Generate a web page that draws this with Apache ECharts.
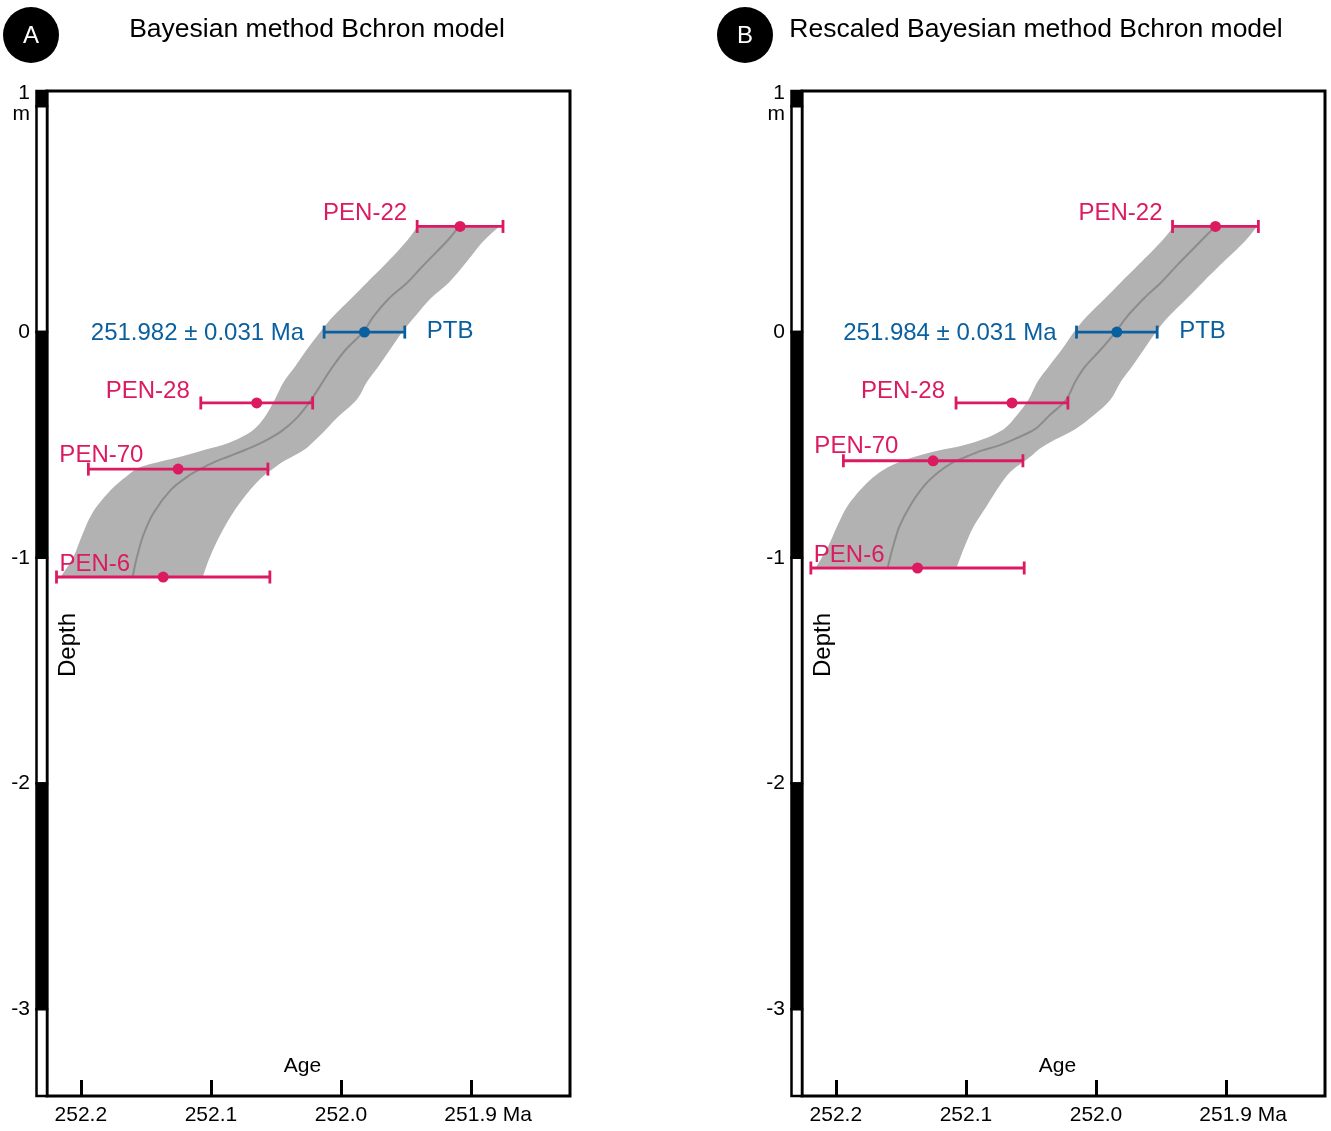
<!DOCTYPE html>
<html><head><meta charset="utf-8">
<script src="https://cdn.jsdelivr.net/npm/echarts@6/dist/echarts.min.js"></script>
<style>html,body{margin:0;padding:0;background:#fff;}#c{width:1331px;height:1131px;}</style>
</head><body><div id="c"></div>
<script>
// ---------- data ----------
const sampleNames = ['PEN-22', 'PTB', 'PEN-28', 'PEN-70', 'PEN-6'];
// Panel A: Bayesian method Bchron model
const ageA   = [251.9085, 251.982, 252.0648, 252.1252, 252.1367];
const errA   = [0.033, 0.031, 0.043, 0.069, 0.082];
const depthA = [0.468, 0.0, -0.314, -0.607, -1.085];
const ptbTextA = '251.982 ± 0.031 Ma';
// Panel B: Rescaled Bayesian method Bchron model
const ageB   = [251.9082, 251.984, 252.0646, 252.1252, 252.1372];
const errB   = [0.033, 0.031, 0.043, 0.069, 0.082];
const depthB = [0.468, 0.0, -0.314, -0.570, -1.045];
const ptbTextB = '251.984 ± 0.031 Ma';

// Age-depth model envelope and median (A)
const bandDepthA = [0.47, 0.40, 0.30, 0.22, 0.15, 0.07, 0.0, -0.075, -0.15, -0.22, -0.30, -0.38, -0.44, -0.49, -0.52, -0.55, -0.575, -0.60, -0.64, -0.70, -0.80, -0.90, -1.00, -1.08];
const bandOldA   = [251.941, 251.950, 251.966, 251.980, 251.992, 252.006, 252.016, 252.026, 252.035, 252.044, 252.051, 252.059, 252.069, 252.086, 252.104, 252.122, 252.140, 252.155, 252.165, 252.177, 252.191, 252.199, 252.206, 252.215];
const bandYoungA = [251.878, 251.891, 251.905, 251.917, 251.931, 251.943, 251.953, 251.962, 251.971, 251.980, 251.988, 252.003, 252.013, 252.022, 252.028, 252.037, 252.045, 252.051, 252.060, 252.070, 252.083, 252.093, 252.101, 252.106];
const medianA    = [251.909, 251.919, 251.936, 251.949, 251.963, 251.975, 251.983, 251.996, 252.006, 252.014, 252.023, 252.034, 252.046, 252.061, 252.073, 252.086, 252.097, 252.106, 252.118, 252.131, 252.144, 252.152, 252.157, 252.160];
// Age-depth model envelope and median (B)
const bandDepthB = [0.47, 0.40, 0.30, 0.22, 0.15, 0.07, 0.0, -0.075, -0.15, -0.22, -0.30, -0.37, -0.43, -0.475, -0.505, -0.525, -0.55, -0.58, -0.62, -0.68, -0.77, -0.86, -0.95, -1.04];
const bandOldB   = [251.940, 251.950, 251.967, 251.981, 251.993, 252.007, 252.017, 252.026, 252.036, 252.045, 252.052, 252.061, 252.071, 252.087, 252.104, 252.121, 252.138, 252.153, 252.166, 252.178, 252.191, 252.199, 252.206, 252.215];
const bandYoungB = [251.876, 251.886, 251.904, 251.918, 251.930, 251.944, 251.954, 251.963, 251.972, 251.981, 251.989, 252.002, 252.016, 252.031, 252.040, 252.045, 252.050, 252.057, 252.066, 252.074, 252.084, 252.094, 252.101, 252.107];
const medianB    = [251.908, 251.920, 251.937, 251.950, 251.963, 251.976, 251.985, 251.996, 252.008, 252.016, 252.023, 252.036, 252.047, 252.063, 252.076, 252.088, 252.099, 252.111, 252.121, 252.132, 252.143, 252.151, 252.156, 252.160];

const xTicks = [252.2, 252.1, 252.0, 251.9];
const yTicks = [1, 0, -1, -2, -3];
const xMin = 251.824, xMax = 252.226;   // age axis (reversed)
const yMin = -3.384, yMax = 1.068;      // depth axis (m)
const depthBarEdges = [yMax, 1, 0, -1, -2, -3, yMin];

// ---------- style ----------
const FONT = "'Liberation Sans', Arial, Helvetica, sans-serif";
const PINK = '#dc1a62', BLUE = '#0a5f9e', BAND = '#b3b2b3', MED = '#8c8c8c';
const labelRule = {
  'PEN-22': {dx: -10, dy: -13, align: 'right'},
  'PEN-28': {dx: -11, dy: -12, align: 'right'},
  'PEN-70': {dx: -29, dy: -14, align: 'left'},
  'PEN-6':  {dx: 3,   dy: -13, align: 'left'}
};

const chart = echarts.init(document.getElementById('c'), null, {renderer: 'canvas'});

function xAxisCfg(gi) {
  return {
    gridIndex: gi, type: 'value', inverse: true, min: xMin, max: xMax, position: 'bottom',
    axisLine: {show: false, onZero: false}, splitLine: {show: false},
    axisTick: {show: true, inside: true, length: 16, customValues: xTicks, lineStyle: {color: '#000', width: 3}},
    axisLabel: {
      customValues: xTicks, margin: 9, color: '#000', fontSize: 21, fontFamily: FONT,
      formatter: v => Math.abs(v - 251.9) < 1e-6 ? '{s|}{v|251.9}{v| Ma}' : '{v|' + v.toFixed(1) + '}',
      rich: {s: {width: 34}, v: {fontSize: 21, fontFamily: FONT, color: '#000'}}
    },
    name: 'Age', nameLocation: 'middle', nameGap: -40,
    nameTextStyle: {fontSize: 21, color: '#000', fontFamily: FONT, padding: [0, 12, 0, 0]}
  };
}
function yAxisCfg(gi) {
  return {
    gridIndex: gi, type: 'value', min: yMin, max: yMax, position: 'left',
    axisLine: {show: false, onZero: false}, axisTick: {show: false}, splitLine: {show: false},
    axisLabel: {
      customValues: yTicks, margin: 17, color: '#000', fontSize: 21, fontFamily: FONT, lineHeight: 21,
      formatter: v => v === 1 ? '{u|1\nm}' : String(v),
      rich: {u: {fontSize: 21, lineHeight: 21, fontFamily: FONT, color: '#000', padding: [0, 0, 6, 0]}}
    }
  };
}

function depthBarSeries(gi) {
  const data = [];
  for (let i = 0; i < depthBarEdges.length - 1; i++) data.push([depthBarEdges[i], depthBarEdges[i + 1], (i % 2 === 0) ? 1 : 0]);
  return {
    type: 'custom', xAxisIndex: gi, yAxisIndex: gi, clip: false, z: 5, silent: true,
    encode: {y: [0, 1]},
    data: data,
    renderItem: (p, api) => {
      const t = api.coord([xMax, api.value(0)]);
      const b = api.coord([xMax, api.value(1)]);
      return {type: 'rect', shape: {x: t[0] - 10.5, y: t[1], width: 10.5, height: b[1] - t[1]},
        style: {fill: api.value(2) ? '#000' : '#fff', stroke: '#000', lineWidth: 2.5}};
    }
  };
}

// smooth curve through pixel points (Catmull-Rom -> cubic Bezier path commands)
function curveCmds(pts) {
  let s = '';
  for (let i = 0; i < pts.length - 1; i++) {
    const p0 = pts[Math.max(i - 1, 0)], p1 = pts[i], p2 = pts[i + 1], p3 = pts[Math.min(i + 2, pts.length - 1)];
    const c1 = [p1[0] + (p2[0] - p0[0]) / 6, p1[1] + (p2[1] - p0[1]) / 6];
    const c2 = [p2[0] - (p3[0] - p1[0]) / 6, p2[1] - (p3[1] - p1[1]) / 6];
    s += ' C' + c1[0] + ' ' + c1[1] + ' ' + c2[0] + ' ' + c2[1] + ' ' + p2[0] + ' ' + p2[1];
  }
  return s;
}

function bandSeries(gi, depth, oldA, young) {
  return {
    type: 'custom', xAxisIndex: gi, yAxisIndex: gi, z: 1, silent: true,
    data: [[oldA[0], depth[0]]],
    renderItem: (p, api) => {
      const left = depth.map((d, i) => api.coord([oldA[i], d]));
      const right = depth.map((d, i) => api.coord([young[i], d])).reverse();
      const path = 'M' + left[0][0] + ' ' + left[0][1] + curveCmds(left) +
        ' L' + right[0][0] + ' ' + right[0][1] + curveCmds(right) + ' Z';
      return {type: 'path', shape: {pathData: path}, style: {fill: BAND}};
    }
  };
}

function medianSeries(gi, depth, med) {
  return {
    type: 'custom', xAxisIndex: gi, yAxisIndex: gi, z: 2, silent: true,
    data: [[med[0], depth[0]]],
    renderItem: (p, api) => {
      const pts = depth.map((d, i) => api.coord([med[i], d]));
      return {type: 'path', shape: {pathData: 'M' + pts[0][0] + ' ' + pts[0][1] + curveCmds(pts)},
        style: {fill: 'none', stroke: MED, lineWidth: 2}};
    }
  };
}

function errorSeries(gi, ages, errs, depths, ptbText) {
  return {
    type: 'custom', xAxisIndex: gi, yAxisIndex: gi, z: 4, silent: true,
    data: ages.map((a, i) => [a, depths[i], errs[i], i]),
    renderItem: (p, api) => {
      const a = api.value(0), d = api.value(1), e = api.value(2), idx = api.value(3);
      const name = sampleNames[idx];
      const col = name === 'PTB' ? BLUE : PINK;
      const c = api.coord([a, d]);
      const l = api.coord([a + e, d]);
      const r = api.coord([a - e, d]);
      const cap = 6.5;
      const ls = {stroke: col, lineWidth: 2.8};
      const children = [
        {type: 'line', shape: {x1: l[0], y1: c[1], x2: r[0], y2: c[1]}, style: ls},
        {type: 'line', shape: {x1: l[0], y1: c[1] - cap, x2: l[0], y2: c[1] + cap}, style: ls},
        {type: 'line', shape: {x1: r[0], y1: c[1] - cap, x2: r[0], y2: c[1] + cap}, style: ls},
        {type: 'circle', shape: {cx: c[0], cy: c[1], r: 5.5}, style: {fill: col}}
      ];
      const font = '24px ' + FONT;
      if (name === 'PTB') {
        children.push({type: 'text', style: {text: ptbText, x: l[0] - 20, y: c[1] + 1, align: 'right', verticalAlign: 'middle', font: font, fill: BLUE}});
        children.push({type: 'text', style: {text: 'PTB', x: r[0] + 22, y: c[1] - 1, align: 'left', verticalAlign: 'middle', font: font, fill: BLUE}});
      } else {
        const rule = labelRule[name];
        children.push({type: 'text', style: {text: name, x: l[0] + rule.dx, y: c[1] + rule.dy, align: rule.align, verticalAlign: 'middle', font: font, fill: PINK}});
      }
      return {type: 'group', children: children};
    }
  };
}

const gridBase = {top: 91, width: 523, height: 1005, show: true, borderColor: '#000', borderWidth: 3,
  backgroundColor: 'rgba(0,0,0,0)', containLabel: false, outerBoundsMode: 'none'};
const option = {
  backgroundColor: '#fff',
  animation: false,
  grid: [Object.assign({left: 47}, gridBase), Object.assign({left: 802}, gridBase)],
  xAxis: [xAxisCfg(0), xAxisCfg(1)],
  yAxis: [yAxisCfg(0), yAxisCfg(1)],
  series: [
    bandSeries(0, bandDepthA, bandOldA, bandYoungA),
    medianSeries(0, bandDepthA, medianA),
    errorSeries(0, ageA, errA, depthA, ptbTextA),
    depthBarSeries(0),
    bandSeries(1, bandDepthB, bandOldB, bandYoungB),
    medianSeries(1, bandDepthB, medianB),
    errorSeries(1, ageB, errB, depthB, ptbTextB),
    depthBarSeries(1)
  ],
  graphic: [
    {type: 'circle', shape: {cx: 31, cy: 35, r: 28}, style: {fill: '#000'}},
    {type: 'text', style: {text: 'A', x: 31, y: 36, align: 'center', verticalAlign: 'middle', font: '24px ' + FONT, fill: '#fff'}},
    {type: 'text', style: {text: 'Bayesian method Bchron model', x: 317, y: 30, align: 'center', verticalAlign: 'middle', font: '26.5px ' + FONT, fill: '#000'}},
    {type: 'circle', shape: {cx: 745, cy: 35, r: 28}, style: {fill: '#000'}},
    {type: 'text', style: {text: 'B', x: 745, y: 36, align: 'center', verticalAlign: 'middle', font: '24px ' + FONT, fill: '#fff'}},
    {type: 'text', style: {text: 'Rescaled Bayesian method Bchron model', x: 1036, y: 30, align: 'center', verticalAlign: 'middle', font: '26.5px ' + FONT, fill: '#000'}},
    {type: 'text', x: 68, y: 645, rotation: Math.PI / 2, style: {text: 'Depth', x: 0, y: 0, align: 'center', verticalAlign: 'middle', font: '24px ' + FONT, fill: '#000'}},
    {type: 'text', x: 823, y: 645, rotation: Math.PI / 2, style: {text: 'Depth', x: 0, y: 0, align: 'center', verticalAlign: 'middle', font: '24px ' + FONT, fill: '#000'}}
  ]
};
chart.setOption(option);
</script>
</body></html>
